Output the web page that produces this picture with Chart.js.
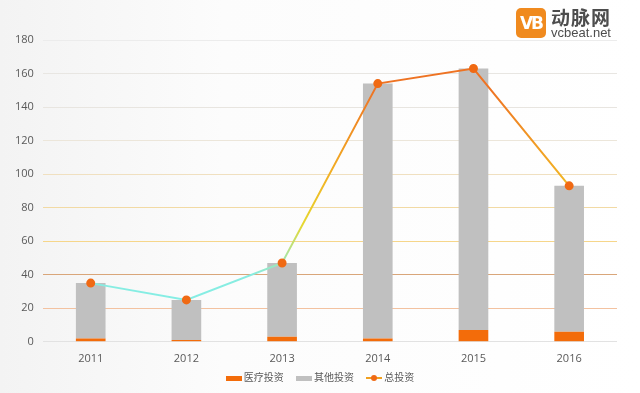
<!DOCTYPE html>
<html>
<head>
<meta charset="utf-8">
<script src="https://cdn.jsdelivr.net/npm/chart.js@4/dist/chart.umd.min.js"></script>
<style>
    html, body { margin: 0; padding: 0; }
    body {
        width: 640px; height: 393px; overflow: hidden; position: relative;
        background: linear-gradient(to right, #f3f3f3 0%, #fcfcfc 35%, #ffffff 100%);
        font-family: "Noto Sans CJK SC", "Noto Sans", sans-serif;
    }
    #wrap { position: absolute; left: 0; top: 0; width: 640px; height: 393px; }
    .logo { position: absolute; left: 516px; top: 7px; width: 124px; height: 34px; }
    .logo .mark {
        position: absolute; left: 0; top: 1px; width: 30px; height: 30px;
        background: #f08a1e; border-radius: 5px; color: #fff;
        font: bold 17px/30px "DejaVu Sans", sans-serif; text-align: center; letter-spacing: -2px;
    }
    .logo .cn { position: absolute; left: 35px; top: -4px; font: bold 19px "Noto Sans CJK SC"; color: #4d4d4d; letter-spacing: 1px; }
    .logo .en { position: absolute; left: 35px; top: 18px; font: 13px "Liberation Sans", sans-serif; color: #4d4d4d; }
    .legend {
        position: absolute; left: 0; top: 367px; width: 640px; text-align: center;
        font-size: 10px; color: #595959;
    }
    .legend span.item { display: inline-block; margin: 0 5px; vertical-align: middle; }
    .sw { display: inline-block; width: 16px; height: 5px; vertical-align: middle; margin-right: 2px; }
    .ln { display: inline-block; width: 16px; height: 2px; background: #f0a020; vertical-align: middle; position: relative; margin-right: 2px; }
    .ln::after { content: ""; position: absolute; left: 5px; top: -2px; width: 6px; height: 6px; border-radius: 3px; background: #f06a14; }
</style>
</head>
<body>
<div id="wrap"><canvas id="chart" width="640" height="393"></canvas></div>
<div class="logo"><div class="mark">VB</div><div class="cn">动脉网</div><div class="en">vcbeat.net</div></div>
<div class="legend">
    <span class="item"><span class="sw" style="background:#f36c0a"></span>医疗投资</span>
    <span class="item"><span class="sw" style="background:#c0c0c0"></span>其他投资</span>
    <span class="item"><span class="ln"></span>总投资</span>
</div>
<script>
    // Chart data
    const years = ['2011', '2012', '2013', '2014', '2015', '2016'];
    const medical = [2, 1, 3, 2, 7, 6];
    const other = [33, 24, 44, 152, 156, 87];
    const total = [35, 25, 47, 154, 163, 93];
    const yTicks = [0, 20, 40, 60, 80, 100, 120, 140, 160, 180];

    // colour of each horizontal grid line, bottom to top
    const gridColors = ['#e2e2e2', '#f3c2a0', '#d9a67a', '#f6d68a', '#f2daa4', '#f0e0c0', '#ece6da', '#e8e5e0', '#e8e6e2', '#ececec'];

    function lineGradient(context) {
        const chart = context.chart;
        const area = chart.chartArea;
        if (!area) return '#f0a020';
        const y = chart.scales.y;
        const g = chart.ctx.createLinearGradient(0, y.getPixelForValue(0), 0, y.getPixelForValue(180));
        g.addColorStop(0, '#80f0ec');
        g.addColorStop(40 / 180, '#88ece0');
        g.addColorStop(70 / 180, '#e6d830');
        g.addColorStop(100 / 180, '#f2b024');
        g.addColorStop(150 / 180, '#ee7424');
        g.addColorStop(1, '#ee7020');
        return g;
    }

    new Chart(document.getElementById('chart'), {
        type: 'bar',
        data: {
            labels: years,
            datasets: [
                {
                    type: 'line',
                    label: '总投资',
                    data: total,
                    borderColor: lineGradient,
                    borderWidth: 2,
                    pointBackgroundColor: '#f06a14',
                    pointBorderColor: '#f06a14',
                    pointRadius: 3.5,
                    tension: 0,
                    order: 0
                },
                {
                    label: '医疗投资',
                    data: medical,
                    backgroundColor: '#f36c0a',
                    stack: 's',
                    order: 1
                },
                {
                    label: '其他投资',
                    data: other,
                    backgroundColor: '#c0c0c0',
                    stack: 's',
                    order: 1
                }
            ]
        },
        options: {
            responsive: false,
            animation: false,
            datasets: { bar: { barPercentage: 0.31, categoryPercentage: 1 } },
            layout: { padding: { left: 6, right: 23, top: 40, bottom: 26 } },
            plugins: { legend: { display: false }, tooltip: { enabled: false } },
            scales: {
                x: {
                    stacked: true,
                    grid: { display: false },
                    border: { display: false },
                    ticks: { color: '#595959', font: { family: 'Open Sans', size: 11 }, padding: 2 }
                },
                y: {
                    stacked: true,
                    min: 0,
                    max: 180,
                    afterBuildTicks: function(axis) { axis.ticks = yTicks.map(v => ({ value: v })); },
                    grid: {
                        color: ctx => gridColors[ctx.index] || '#e8e8e8',
                        drawTicks: false
                    },
                    border: { display: false },
                    ticks: { color: '#595959', font: { family: 'Open Sans', size: 11 }, padding: 9 }
                }
            }
        }
    });
</script>
</body>
</html>
